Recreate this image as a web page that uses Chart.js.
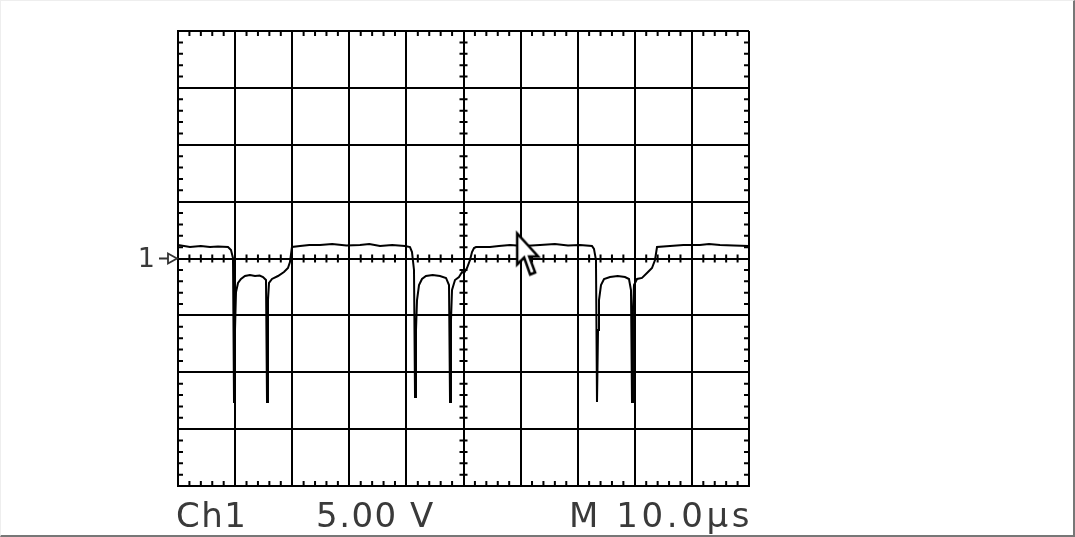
<!DOCTYPE html>
<html>
<head>
<meta charset="utf-8">
<script src="https://cdn.jsdelivr.net/npm/chart.js@4/dist/chart.umd.min.js"></script>
<style>
  html, body { margin: 0; padding: 0; background: #fff; }
  #wrap { position: relative; width: 1075px; height: 537px; overflow: hidden; background: #fff; }
  #frame { position: absolute; left: 0; top: 0; box-sizing: border-box; width: 1075px; height: 537px;
           border-left: 1px solid #eee; border-top: 1px solid #eee;
           border-right: 2px solid #777; border-bottom: 2px solid #777; pointer-events: none; }
  canvas { position: absolute; left: 0; top: 0; }
  .lbl { position: absolute; top: 495px; font-family: "DejaVu Sans", sans-serif; font-size: 34px;
         color: #3a3a3a; white-space: nowrap; line-height: 40px; }
</style>
</head>
<body>
<div id="wrap">
  <canvas id="c" width="1075" height="537"></canvas>
  <div class="lbl" id="ch" style="left:176px; letter-spacing:1.5px;">Ch1</div>
  <div class="lbl" id="vd" style="left:316px; letter-spacing:1.5px;">5.00 V</div>
  <div class="lbl" id="td" style="left:569px; letter-spacing:3.6px;">M 10.0µs</div>
  <div id="frame"></div>
</div>
<script>
// ---- data (time in µs, voltage in V) ----
const timeUs = [0.0, 2.1, 4.0, 5.6, 7.0, 8.76, 9.28, 9.63, 9.81, 9.98, 10.16, 10.51, 11.03, 11.73, 12.6, 13.49, 14.3, 14.89, 15.41, 15.59, 15.76, 15.94, 16.46, 17.51, 18.56, 19.26, 19.61, 19.96, 21.37, 23.0, 24.87, 27.0, 29.5, 31.87, 33.5, 35.38, 37.5, 39.75, 40.63, 40.98, 41.33, 41.51, 41.68, 41.86, 42.21, 42.73, 43.43, 44.6, 45.88, 46.94, 47.46, 47.64, 47.81, 47.99, 48.51, 49.21, 49.74, 50.09, 50.61, 51.14, 51.49, 51.84, 52.19, 54.64, 56.2, 58.14, 60.5, 63.4, 66.0, 68.3, 70.4, 72.5, 72.85, 73.2, 73.38, 73.56, 73.73, 74.08, 74.61, 75.66, 77.0, 78.28, 78.98, 79.33, 79.51, 79.68, 79.86, 80.39, 81.26, 82.31, 83.01, 83.54, 83.89, 86.16, 88.5, 91.4, 93.0, 94.92, 97.3, 100.0];
const voltsV = [1.19, 1.01, 1.1, 1.01, 1.05, 1.01, 0.75, 0.04, -12.62, -6.29, -2.95, -2.15, -1.8, -1.54, -1.45, -1.54, -1.5, -1.63, -1.89, -12.62, -3.65, -2.15, -1.8, -1.54, -1.19, -0.84, -0.31, 1.01, 1.1, 1.19, 1.19, 1.28, 1.15, 1.19, 1.28, 1.1, 1.19, 1.1, 1.01, 0.57, -1.01, -12.18, -6.29, -3.65, -2.33, -1.8, -1.54, -1.45, -1.54, -1.71, -2.33, -12.62, -5.41, -2.77, -1.89, -1.63, -1.19, -1.27, -0.84, -0.13, 0.57, 0.92, 1.01, 1.01, 1.1, 1.19, 1.1, 1.19, 1.28, 1.15, 1.19, 1.1, 0.84, -0.13, -12.62, -6.29, -3.65, -2.33, -1.8, -1.63, -1.54, -1.63, -1.8, -2.77, -12.62, -4.53, -2.33, -1.8, -1.71, -1.19, -0.84, -0.13, 1.01, 1.1, 1.19, 1.19, 1.28, 1.19, 1.15, 1.1];
// mouse pointer location seen on the screen (time µs, volts)
const cursorPos = [{ x: 59.4, y: 2.2 }];
// axis settings: 10 divisions of 10 µs, 8 divisions of 5 V
const xDivs = [0, 100, 10];
const yDivs = [-20, 20, 5];
const channelLevel = 0;
const channelLabel = "1";

const trace = timeUs.map((t, i) => ({ x: t, y: voltsV[i] }));

// mouse pointer image, tip at the centre of the canvas
function makeCursor() {
  const cv = document.createElement('canvas');
  cv.width = 60; cv.height = 100;
  const g = cv.getContext('2d');
  g.translate(30, 50);
  g.beginPath();
  const pts = [[0,0],[0,31],[7,24],[13,41],[18,39],[12,23],[21,23]];
  g.moveTo(pts[0][0], pts[0][1]);
  for (const p of pts.slice(1)) g.lineTo(p[0], p[1]);
  g.closePath();
  g.fillStyle = '#fff'; g.fill();
  g.lineWidth = 2.5; g.strokeStyle = '#000'; g.lineJoin = 'miter'; g.stroke();
  return cv;
}

const scopeTicks = {
  id: 'scopeTicks',
  beforeDatasetsDraw(chart) {
    const { ctx, chartArea: a, scales: { x, y } } = chart;
    const xc = x.getPixelForValue((xDivs[0] + xDivs[1]) / 2);
    const yc = y.getPixelForValue(channelLevel);
    ctx.save();
    ctx.strokeStyle = '#000';
    ctx.lineWidth = 2;
    ctx.beginPath();
    const L = 5, C = 4;
    const xMinor = xDivs[2] / 5, yMinor = yDivs[2] / 5;
    for (let i = 1; i < (xDivs[1] - xDivs[0]) / xMinor; i++) {
      if (i % 5 === 0) continue;
      const px = x.getPixelForValue(xDivs[0] + i * xMinor);
      ctx.moveTo(px, a.top); ctx.lineTo(px, a.top + L);
      ctx.moveTo(px, a.bottom); ctx.lineTo(px, a.bottom - L);
      ctx.moveTo(px, yc - C); ctx.lineTo(px, yc + C);
    }
    for (let i = 1; i < (yDivs[1] - yDivs[0]) / yMinor; i++) {
      if (i % 5 === 0) continue;
      const py = y.getPixelForValue(yDivs[0] + i * yMinor);
      ctx.moveTo(a.left, py); ctx.lineTo(a.left + L, py);
      ctx.moveTo(a.right, py); ctx.lineTo(a.right - L, py);
      ctx.moveTo(xc - C, py); ctx.lineTo(xc + C, py);
    }
    ctx.stroke();
    // channel ground marker "1 -▷"
    ctx.fillStyle = '#3a3a3a';
    ctx.font = '27px "DejaVu Sans", sans-serif';
    ctx.textAlign = 'right';
    ctx.textBaseline = 'middle';
    ctx.fillText(channelLabel, a.left - 23, yc + 1);
    ctx.lineWidth = 1.8;
    ctx.strokeStyle = '#333';
    ctx.beginPath();
    ctx.moveTo(a.left - 19, yc); ctx.lineTo(a.left - 10, yc);
    ctx.moveTo(a.left - 10, yc - 5); ctx.lineTo(a.left - 1, yc); ctx.lineTo(a.left - 10, yc + 5); ctx.closePath();
    ctx.stroke();
    ctx.restore();
  }
};

new Chart(document.getElementById('c'), {
  type: 'scatter',
  data: {
    datasets: [
      {
        label: 'Ch1',
        data: trace,
        showLine: true,
        borderColor: '#000',
        borderWidth: 2,
        pointRadius: 0,
        tension: 0,
        order: 2
      },
      {
        label: 'cursor',
        data: cursorPos,
        showLine: false,
        pointStyle: makeCursor(),
        pointRadius: 10,
        order: 1
      }
    ]
  },
  options: {
    responsive: false,
    animation: false,
    events: [],
    layout: { padding: { left: 178, top: 31, right: 326, bottom: 51 } },
    plugins: { legend: { display: false }, tooltip: { enabled: false }, title: { display: false } },
    scales: {
      x: {
        type: 'linear', min: xDivs[0], max: xDivs[1],
        ticks: { display: false, stepSize: xDivs[2] },
        grid: { color: '#000', lineWidth: 2, drawTicks: false },
        border: { color: '#000', width: 2 }
      },
      y: {
        type: 'linear', min: yDivs[0], max: yDivs[1],
        ticks: { display: false, stepSize: yDivs[2] },
        grid: { color: '#000', lineWidth: 2, drawTicks: false },
        border: { color: '#000', width: 2 }
      }
    }
  },
  plugins: [scopeTicks]
});
</script>
</body>
</html>
